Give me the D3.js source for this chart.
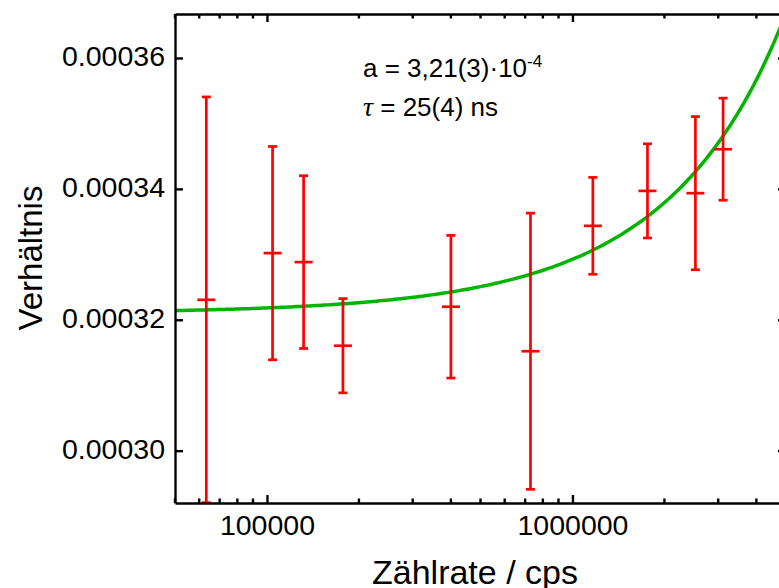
<!DOCTYPE html>
<html>
<head>
<meta charset="utf-8">
<script src="https://cdn.jsdelivr.net/npm/d3@7/dist/d3.min.js"></script>
<style>
  html, body { margin: 0; padding: 0; background: #fff; }
  svg { display: block; font-family: "Liberation Sans", Arial, sans-serif; }
</style>
</head>
<body>
<svg id="chart" width="779" height="588"></svg>
<script>
// Count rate (cps) of each measurement
const rates = [63300, 104300, 131800, 177300, 400000, 728800, 1166000, 1760000, 2526000, 3112000];
// Measured ratio and its uncertainty
const ratios = [0.00032305, 0.00033018, 0.00032881, 0.00031603, 0.00032199, 0.00031519, 0.00033435, 0.00033969, 0.00033934, 0.00034606];
const ratioErrors = [0.0000310, 0.0000163, 0.0000132, 0.0000072, 0.0000109, 0.0000211, 0.0000074, 0.0000072, 0.0000117, 0.0000078];
// Fit parameters: ratio = a / (1 - tau * rate)
const fitA = 3.21e-4;
const fitTau = 25e-9;
const yTicks = [0.00030, 0.00032, 0.00034, 0.00036];
const xTicks = [100000, 1000000];
const xMinorTicks = [50000, 60000, 70000, 80000, 90000, 2e5, 3e5, 4e5, 5e5, 6e5, 7e5, 8e5, 9e5, 2e6, 3e6, 4e6];

const svg = d3.select("#chart");
const mLeft = 175, mTop = 14, mBottom = 503, mRight = 786;

const x = d3.scaleLog().domain([50000, 5000000]).range([mLeft, mRight]);
const y = d3.scaleLinear().domain([0.0002920, 0.00036672]).range([mBottom, mTop]);

svg.append("clipPath").attr("id", "plotClip")
  .append("rect").attr("x", mLeft).attr("y", mTop).attr("width", mRight - mLeft).attr("height", mBottom - mTop);

const plot = svg.append("g").attr("clip-path", "url(#plotClip)");

// Fitted curve
const curveX = d3.range(0, 201).map(i => 50000 * Math.pow(100, i / 200));
const line = d3.line()
  .x(d => x(d))
  .y(d => y(fitA / (1 - fitTau * d)));
plot.append("path")
  .datum(curveX)
  .attr("d", line)
  .attr("fill", "none")
  .attr("stroke", "#00b400")
  .attr("stroke-width", 3.5);

// Error bars
const red = "#ff0000";
const pts = plot.selectAll(".pt").data(rates.map((r, i) => ({ r, v: ratios[i], e: ratioErrors[i] })))
  .enter().append("g").attr("class", "pt");
pts.append("line")
  .attr("x1", d => x(d.r)).attr("x2", d => x(d.r))
  .attr("y1", d => y(d.v - d.e)).attr("y2", d => y(d.v + d.e))
  .attr("stroke", red).attr("stroke-width", 2.7);
[-1, 1].forEach(s => {
  pts.append("line")
    .attr("x1", d => x(d.r) - 4.5).attr("x2", d => x(d.r) + 4.5)
    .attr("y1", d => y(d.v + s * d.e)).attr("y2", d => y(d.v + s * d.e))
    .attr("stroke", red).attr("stroke-width", 2.7);
});
pts.append("line")
  .attr("x1", d => x(d.r) - 9).attr("x2", d => x(d.r) + 9)
  .attr("y1", d => y(d.v)).attr("y2", d => y(d.v))
  .attr("stroke", red).attr("stroke-width", 2.7);

// Axes (ticks pointing inward)
const tickFont = "28.5px";

function styleAxis(g) {
  g.selectAll(".domain").attr("stroke", "#000").attr("stroke-width", 2.4);
  g.selectAll(".tick line").attr("stroke", "#000").attr("stroke-width", 2.4);
  g.selectAll(".tick text").attr("fill", "#000").style("font-size", tickFont);
}

const xBottom = svg.append("g").attr("transform", `translate(0,${mBottom})`)
  .call(d3.axisBottom(x).tickValues(xTicks).tickFormat(d3.format("d")).tickSizeInner(-8).tickSizeOuter(0).tickPadding(12));
styleAxis(xBottom);
xBottom.selectAll(".minor").data(xMinorTicks).enter().append("line")
  .attr("class", "minor")
  .attr("x1", d => x(d)).attr("x2", d => x(d)).attr("y1", 0).attr("y2", -4.5)
  .attr("stroke", "#000").attr("stroke-width", 2.4);

const xTop = svg.append("g").attr("transform", `translate(0,${mTop})`)
  .call(d3.axisTop(x).tickValues(xTicks).tickFormat("").tickSizeInner(-8).tickSizeOuter(0));
styleAxis(xTop);
xTop.selectAll(".minor").data(xMinorTicks).enter().append("line")
  .attr("class", "minor")
  .attr("x1", d => x(d)).attr("x2", d => x(d)).attr("y1", 0).attr("y2", 4.5)
  .attr("stroke", "#000").attr("stroke-width", 2.4);

const yLeft = svg.append("g").attr("transform", `translate(${mLeft},0)`)
  .call(d3.axisLeft(y).tickValues(yTicks).tickFormat(d3.format(".5f")).tickSizeInner(-8).tickSizeOuter(0).tickPadding(10));
styleAxis(yLeft);
yLeft.selectAll(".tick text").attr("dy", "0.28em");

const yRight = svg.append("g").attr("transform", `translate(${mRight},0)`)
  .call(d3.axisRight(y).tickValues(yTicks).tickFormat("").tickSizeInner(-8).tickSizeOuter(0));
styleAxis(yRight);

// Axis titles
svg.append("text")
  .attr("x", 475).attr("y", 584)
  .attr("text-anchor", "middle")
  .style("font-size", "34px")
  .text("Zählrate / cps");

svg.append("text")
  .attr("transform", `translate(42,258) rotate(-90)`)
  .attr("text-anchor", "middle")
  .style("font-size", "33px")
  .text("Verhältnis");

// Fit result annotation
const ann = svg.append("text")
  .attr("x", 363).attr("y", 77)
  .style("font-size", "26px");
ann.append("tspan").text("a = 3,21(3)·10");
ann.append("tspan").attr("dy", -10).style("font-size", "17px").text("-4");

const ann2 = svg.append("text")
  .attr("x", 363).attr("y", 116)
  .style("font-size", "26px");
ann2.append("tspan").style("font-family", "'Liberation Serif', serif").style("font-style", "italic").style("font-size", "28px").text("τ");
ann2.append("tspan").text(" = 25(4) ns");
</script>
</body>
</html>
